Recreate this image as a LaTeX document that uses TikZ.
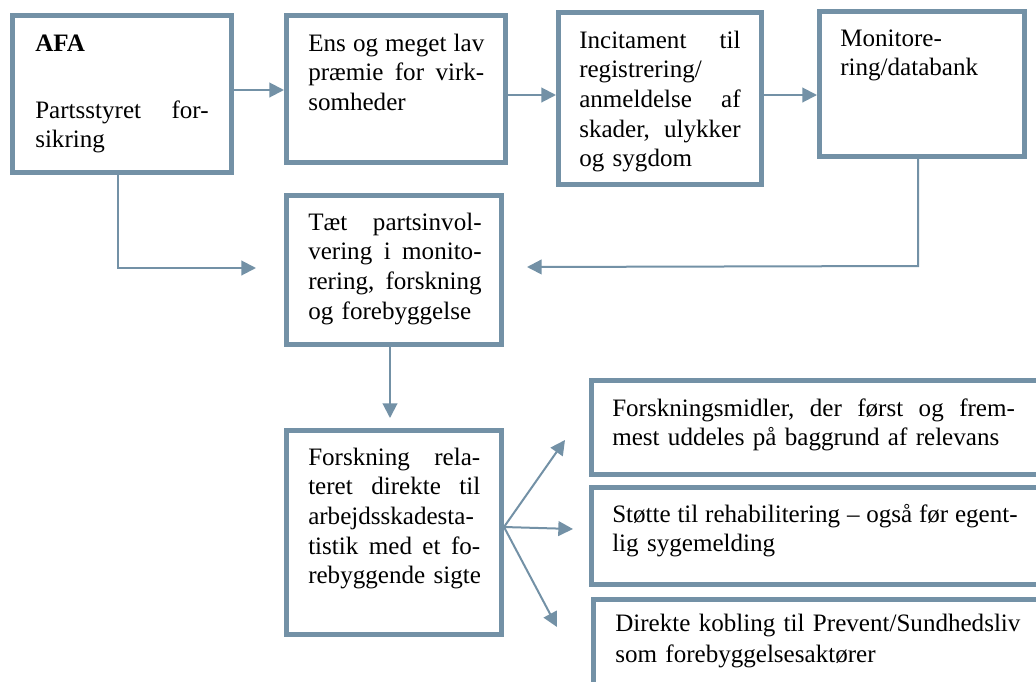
\documentclass[tikz,border=0pt]{standalone}
\usepackage{fontspec}
\setmainfont{Liberation Serif}
\usetikzlibrary{arrows.meta,calc}
\definecolor{lineC}{RGB}{115,145,166}
\begin{document}
\begin{tikzpicture}[x=0.75pt,y=-0.75pt,
  box/.style={draw=lineC,line width=3.75pt,fill=white,inner sep=0pt,outer sep=1.875pt},
  txt/.style={inner sep=0pt,anchor=base west,align=left,font=\fontsize{18.8}{22.3}\selectfont},
  conn/.style={draw=lineC,line width=1.5pt},
  arr/.style={conn,-{Triangle[length=11pt,width=11pt]}}]
\useasboundingbox (0,0) rectangle (1036,682);
\clip (0,0) rectangle (1036,682);
\fill[white] (0,0) rectangle (1036,682);
% boxes
\node[box,minimum width=164.25pt,minimum height=117.75pt] (afa) at (122,94) {};
\node[box,minimum width=164.25pt,minimum height=110.25pt] (ens) at (396,89) {};
\node[box,minimum width=152.25pt,minimum height=129pt] (inc) at (660,98.5) {};
\node[box,minimum width=153.75pt,minimum height=108.75pt] (mon) at (922,84) {};
\node[box,minimum width=161.25pt,minimum height=111.75pt] (taet) at (394,270) {};
\node[box,minimum width=161.25pt,minimum height=153pt] (fors) at (394,532.5) {};
\node[box,minimum width=338.25pt,minimum height=70.5pt] (r1) at (817,427.5) {};
\node[box,minimum width=338.25pt,minimum height=72.75pt] (r2) at (817,536) {};
\node[box,minimum width=336.75pt,minimum height=67.9pt] (r3) at (818,644.75) {};
% texts
\node[txt,text width=130pt] (afat) at (35,51) {\textbf{AFA}\\[27.95pt]Partsstyret\hfill for-\\sikring};
\node[txt,text width=132pt] (enst) at (308,51) {Ens\hfill og\hfill meget\hfill lav\\præmie\hfill for\hfill virk-\\somheder};
\node[txt,text width=121pt] (inct) at (579,48) {Incitament\hfill til\\registrering/\\anmeldelse\hfill af\\skader,\hfill ulykker\\og sygdom};
\node[txt,text width=140pt] (mont) at (840,46) {Monitore-\\ring/databank};
\node[txt,text width=130pt] (taett) at (308,230) {Tæt\hfill partsinvol-\\vering\hfill i\hfill monito-\\rering,\hfill forskning\\og forebyggelse};
\node[txt,text width=129pt] (forst) at (308,465) {Forskning\hfill rela-\\teret\hfill direkte\hfill til\\arbejdsskadesta-\\tistik\hfill med\hfill et\hfill fo-\\\mbox{rebyggende sigte}};
\node[txt,text width=302pt] (r1t) at (612,416) {Forskningsmidler,\hfill der\hfill først\hfill og\hfill frem-\\mest uddeles på baggrund af relevans};
\node[txt,text width=304pt] (r2t) at (612,522) {Støtte\hfill til\hfill rehabilitering\hfill –\hfill også\hfill før\hfill egent-\\lig sygemelding};
\node[txt,text width=330pt] (r3t) at (615,631) {Direkte kobling til Prevent/Sundhedsliv\\[1.5pt]som forebyggelsesaktører};
% connectors
\draw[arr] (afa.east |- 0,90) -- (ens.west |- 0,90);
\draw[arr] (ens.east |- 0,95) -- (inc.west |- 0,95);
\draw[arr] (inc.east |- 0,95) -- (mon.west |- 0,95);
\coordinate (k1) at (118,268);
\coordinate (t1) at (256,268);
\draw[arr] (afa.south -| k1) -- (k1) -- (t1);
\coordinate (k2) at (918,266);
\coordinate (t2) at (527,267);
\draw[arr] (mon.south -| k2) -- (k2) -- (t2);
\coordinate (t3) at (390,418);
\draw[arr] (taet.south -| t3) -- (t3);
\coordinate (f0) at (505,527);
\coordinate (f1) at (565,440);
\coordinate (f2) at (573,529);
\coordinate (f3) at (557,627);
\draw[arr] (fors.east |- f0) -- (f1);
\draw[arr] (fors.east |- f0) -- (f2);
\draw[arr] (fors.east |- f0) -- (f3);
\end{tikzpicture}
\end{document}
